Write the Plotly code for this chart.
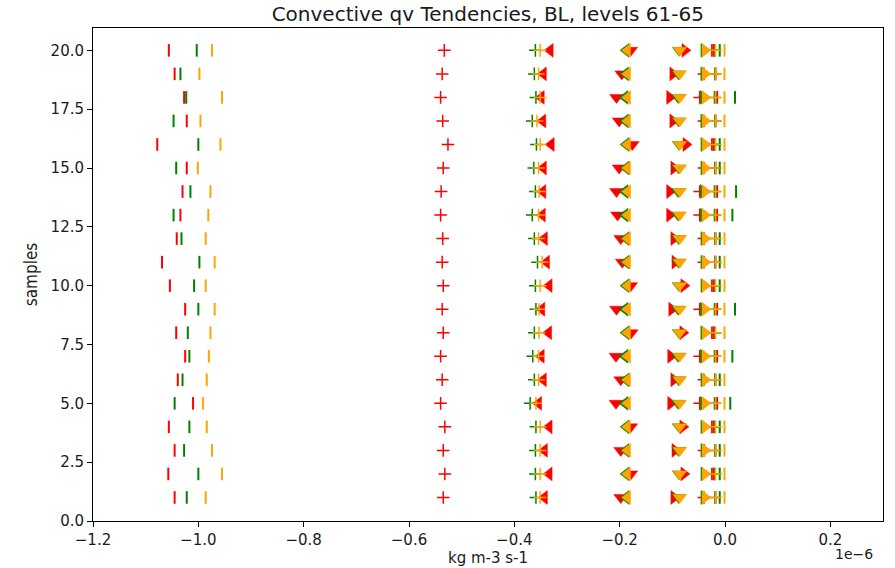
import plotly.graph_objects as go

# Samples on the y axis
samples = list(range(1, 21))

# Column-integrated tendency (x 1e-6 kg m-3 s-1), marker "|"
col_red = [-1.045, -1.057, -1.045, -1.056, -1.010, -1.039, -1.025, -1.042, -1.025, -1.054,
           -1.069, -1.041, -1.034, -1.030, -1.022, -1.078, -1.022, -1.027, -1.045, -1.056]
col_green = [-1.022, -1.000, -1.027, -1.017, -1.045, -1.030, -1.017, -1.020, -1.000, -1.008,
             -0.998, -1.032, -1.047, -1.015, -1.042, -1.000, -1.047, -1.023, -1.034, -1.003]
col_orange = [-0.986, -0.955, -0.974, -0.984, -0.991, -0.984, -0.980, -0.977, -0.969, -0.986,
              -0.969, -0.986, -0.981, -0.977, -1.001, -0.958, -0.996, -0.955, -0.998, -0.974]

# Level 61, marker "+"
l61_red = [-0.535, -0.532, -0.535, -0.532, -0.540, -0.537, -0.540, -0.535, -0.537, -0.535,
           -0.537, -0.536, -0.540, -0.539, -0.535, -0.526, -0.536, -0.540, -0.537, -0.533]
l61_green = [-0.359, -0.360, -0.360, -0.359, -0.370, -0.362, -0.365, -0.362, -0.359, -0.360,
             -0.356, -0.362, -0.366, -0.360, -0.363, -0.358, -0.366, -0.359, -0.362, -0.360]
l61_orange = [-0.351, -0.351, -0.351, -0.351, -0.359, -0.354, -0.354, -0.353, -0.353, -0.351,
              -0.347, -0.354, -0.354, -0.353, -0.354, -0.351, -0.357, -0.351, -0.354, -0.351]

# Level 62, marker "<"
l62_red = [-0.343, -0.334, -0.343, -0.334, -0.354, -0.345, -0.349, -0.335, -0.348, -0.334,
           -0.339, -0.343, -0.347, -0.346, -0.345, -0.330, -0.346, -0.349, -0.345, -0.332]
l62_green = [-0.188, -0.188, -0.188, -0.188, -0.190, -0.188, -0.190, -0.188, -0.190, -0.188,
             -0.188, -0.188, -0.190, -0.190, -0.188, -0.188, -0.189, -0.190, -0.189, -0.188]
l62_orange = [-0.185, -0.185, -0.185, -0.185, -0.185, -0.185, -0.185, -0.185, -0.185, -0.185,
              -0.185, -0.185, -0.185, -0.185, -0.185, -0.185, -0.185, -0.185, -0.185, -0.185]

# Level 63, marker "v"
l63_red = [-0.198, -0.179, -0.198, -0.179, -0.207, -0.198, -0.207, -0.178, -0.206, -0.179,
           -0.195, -0.198, -0.204, -0.206, -0.201, -0.176, -0.201, -0.206, -0.196, -0.179]
l63_green = [-0.088, -0.087, -0.088, -0.087, -0.089, -0.088, -0.089, -0.087, -0.089, -0.087,
             -0.088, -0.088, -0.089, -0.089, -0.088, -0.087, -0.088, -0.089, -0.088, -0.087]
l63_orange = [-0.086, -0.086, -0.086, -0.086, -0.086, -0.086, -0.086, -0.086, -0.086, -0.086,
              -0.086, -0.086, -0.086, -0.086, -0.086, -0.086, -0.086, -0.086, -0.086, -0.086]

# Level 64, marker ">"
l64_red = [-0.097, -0.078, -0.095, -0.080, -0.103, -0.097, -0.103, -0.080, -0.101, -0.078,
           -0.095, -0.097, -0.105, -0.105, -0.097, -0.074, -0.099, -0.105, -0.099, -0.076]
l64_green = [-0.040, -0.040, -0.040, -0.040, -0.041, -0.040, -0.041, -0.040, -0.041, -0.040,
             -0.040, -0.040, -0.041, -0.041, -0.040, -0.040, -0.040, -0.041, -0.040, -0.040]
l64_orange = [-0.038, -0.038, -0.038, -0.038, -0.038, -0.038, -0.038, -0.038, -0.038, -0.038,
              -0.038, -0.038, -0.038, -0.038, -0.038, -0.038, -0.038, -0.038, -0.038, -0.038]

# Level 65, marker "+"
l65_red = [-0.040, -0.025, -0.040, -0.025, -0.048, -0.040, -0.048, -0.025, -0.048, -0.025,
           -0.040, -0.040, -0.048, -0.048, -0.040, -0.025, -0.040, -0.048, -0.040, -0.025]
l65_green = [-0.019, -0.019, -0.019, -0.019, -0.020, -0.019, -0.020, -0.019, -0.020, -0.019,
             -0.019, -0.019, -0.020, -0.020, -0.019, -0.019, -0.019, -0.020, -0.019, -0.019]
l65_orange = [-0.018, -0.018, -0.018, -0.018, -0.018, -0.018, -0.018, -0.018, -0.018, -0.018,
              -0.018, -0.018, -0.018, -0.018, -0.018, -0.018, -0.018, -0.018, -0.018, -0.018]

# Surface layer, marker "|"
sfc_red = [-0.018, -0.022, -0.018, -0.022, -0.015, -0.018, -0.015, -0.022, -0.015, -0.022,
           -0.018, -0.018, -0.015, -0.015, -0.018, -0.022, -0.018, -0.015, -0.018, -0.022]
sfc_green = [-0.010, -0.010, -0.010, -0.010, 0.010, -0.010, 0.014, -0.044, 0.019, -0.010,
             -0.010, -0.010, 0.014, 0.021, -0.010, -0.010, -0.044, 0.019, -0.044, -0.010]
sfc_orange = [-0.001, -0.001, -0.001, -0.001, -0.001, -0.001, -0.001, -0.001, -0.001, -0.001,
              -0.001, -0.001, -0.001, -0.001, -0.001, -0.001, -0.001, -0.001, -0.001, -0.001]

RED, GREEN, ORANGE = "#ff0000", "#008000", "#ffa500"

fig = go.Figure()


def add(xs, color, symbol):
    if symbol == "line-ns":
        marker = dict(symbol=symbol, size=9, color=color, line=dict(color=color, width=2))
    elif symbol == "cross-thin":
        marker = dict(symbol=symbol, size=9, color=color, line=dict(color=color, width=1.5))
    else:
        marker = dict(symbol=symbol, size=12, color=color, line=dict(color=color, width=0.5))
    fig.add_trace(go.Scatter(x=xs, y=samples, mode="markers", marker=marker,
                             showlegend=False, hoverinfo="x+y"))


series = [
    (col_red, col_green, col_orange, "line-ns"),
    (l61_red, l61_green, l61_orange, "cross-thin"),
    (l62_red, l62_green, l62_orange, "triangle-left"),
    (l63_red, l63_green, l63_orange, "triangle-down"),
    (l64_red, l64_green, l64_orange, "triangle-right"),
    (l65_red, l65_green, l65_orange, "cross-thin"),
    (sfc_red, sfc_green, sfc_orange, "line-ns"),
]

# red first, then green, then orange on top
for r, g, o, sym in series:
    add(r, RED, sym)
for r, g, o, sym in series:
    add(g, GREEN, sym)
for r, g, o, sym in series:
    add(o, ORANGE, sym)

font = "DejaVu Sans"
ink = "#1a1a1a"
xt = [-1.2, -1.0, -0.8, -0.6, -0.4, -0.2, 0.0, 0.2]
yt = [0.0, 2.5, 5.0, 7.5, 10.0, 12.5, 15.0, 17.5, 20.0]

fig.update_layout(
    width=895, height=568,
    margin=dict(l=93, r=12, t=28, b=47),
    paper_bgcolor="white", plot_bgcolor="white",
    title=dict(text="Convective qv Tendencies, BL, levels 61-65", x=0.545, xanchor="center",
               y=1 - 14 / 568, yanchor="middle", font=dict(family=font, size=20, color=ink)),
    xaxis=dict(range=[-1.2, 0.3], tickvals=xt, automargin=False,
               ticktext=[f"{v:.1f}".replace("-", "\u2212") for v in xt],
               showgrid=False, zeroline=False, showline=True, linecolor="black", linewidth=1,
               mirror=True, ticks="outside", ticklen=5, tickcolor="black",
               tickfont=dict(family=font, size=15, color=ink),
               title=dict(text="kg m-3 s-1", font=dict(family=font, size=15, color=ink),
                          standoff=0)),
    yaxis=dict(range=[0, 20.95], tickvals=yt, ticktext=[f"{v:.1f}" for v in yt], automargin=False,
               showgrid=False, zeroline=False, showline=True, linecolor="black", linewidth=1,
               mirror=True, ticks="outside", ticklen=5, tickcolor="black",
               tickfont=dict(family=font, size=15, color=ink),
               title=dict(text="samples", font=dict(family="DejaVu Sans Condensed", size=17,
                                                      color=ink), standoff=8)),
)

fig.add_annotation(text="1e\u22126", xref="paper", yref="paper", x=1.0, y=0, xanchor="right",
                   yanchor="top", yshift=-23, xshift=-8, showarrow=False,
                   font=dict(family=font, size=14, color=ink))

fig.write_html("out.html")
